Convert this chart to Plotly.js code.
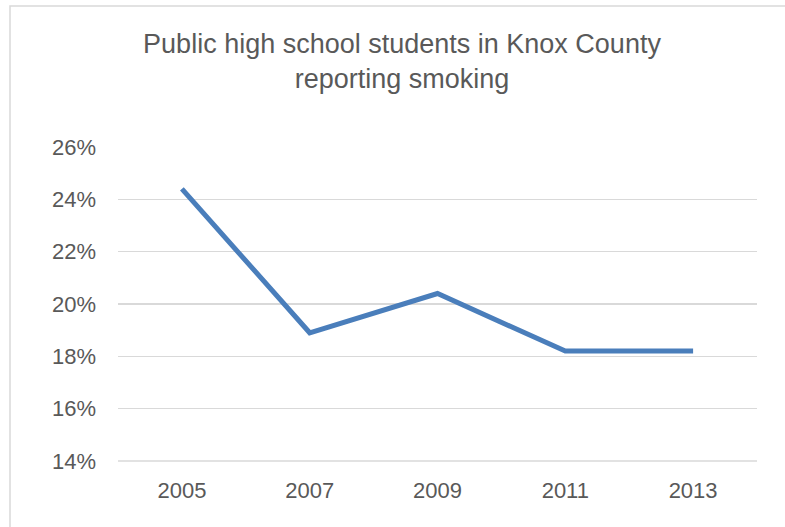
<!DOCTYPE html>
<html><head><meta charset="utf-8">
<script src="https://cdn.plot.ly/plotly-3.0.1.min.js"></script>
<style>html,body{margin:0;padding:0;background:#fff;}#chart{width:785px;height:527px;}</style>
</head><body><div id="chart"></div>
<script>
const years = ['2005','2007','2009','2011','2013'];
const smokingPct = [24.4, 18.9, 20.4, 18.2, 18.2];
const yTicks = [14,16,18,20,22,24,26];
const yTickText = yTicks.map(v => v + '%');

const trace = {
  x: years, y: smokingPct, type: 'scatter', mode: 'lines',
  line: {color: '#4a7ebb', width: 5}, hoverinfo: 'skip'
};
const font = 'Liberation Sans, Arial, sans-serif';
const layout = {
  width: 785, height: 527,
  margin: {l: 118, r: 28, t: 147, b: 66},
  paper_bgcolor: '#fff', plot_bgcolor: '#fff',
  showlegend: false,
  title: {text: 'Public high school students in Knox County<br>reporting smoking',
    x: 402/785, xref: 'container', xanchor: 'center', y: 1-53/527, yref: 'container', yanchor: 'top',
    font: {family: font, size: 27, color: '#595959'}},
  xaxis: {type: 'category', range: [-0.5, 4.5], showgrid: false, zeroline: false, showline: false, ticks: '',
    tickfont: {family: font, size: 22, color: '#595959'}, ticklabelstandoff: 14, fixedrange: true},
  yaxis: {range: [14, 26], tickvals: yTicks, ticktext: yTickText, showgrid: true,
    gridcolor: '#d9d9d9', gridwidth: 1.5, zeroline: false, showline: false, ticks: '',
    tickfont: {family: font, size: 22, color: '#595959'}, ticklabelstandoff: 21, fixedrange: true},
  shapes: [{type: 'rect', xref: 'paper', yref: 'paper', x0: (10-118)/639, x1: 1.2, y0: -0.5, y1: (461-6)/314,
    line: {color: '#d9d9d9', width: 1.5}, layer: 'below'},
    {type: 'line', xref: 'paper', yref: 'paper', x0: 0, x1: 1, y0: 0, y1: 0, line: {color: '#d9d9d9', width: 1.5}, layer: 'below'}]
};
Plotly.newPlot('chart', [trace], layout, {displayModeBar: false, staticPlot: true});
</script></body></html>
